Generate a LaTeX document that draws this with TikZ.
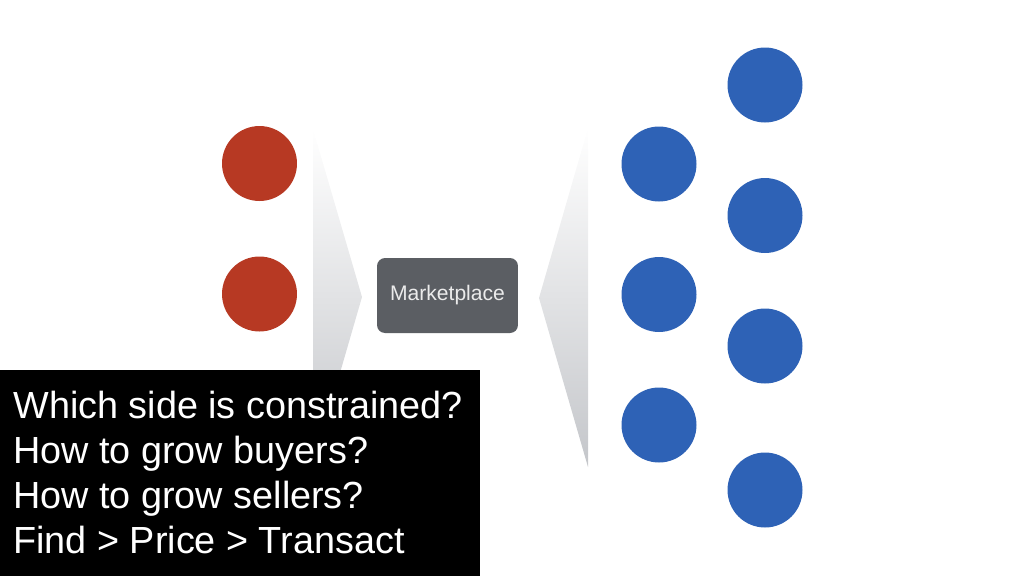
\documentclass[tikz,border=0pt]{standalone}
\usepackage{fontspec}
\setmainfont{Liberation Sans}
\usepackage{xcolor}
\usepackage{tikz}
\usetikzlibrary{shapes,positioning}
\definecolor{sellerred}{RGB}{183,57,35}
\definecolor{buyerblue}{RGB}{46,98,182}
\definecolor{marketgray}{RGB}{91,94,99}
\definecolor{funnelgray}{RGB}{217,218,220}
\definecolor{funneldark}{RGB}{196,198,202}

\begin{document}
\begin{tikzpicture}[
    x=0.02cm, y=-0.02cm,
    seller/.style={circle, fill=sellerred, minimum size=1.5cm, inner sep=0pt},
    buyer/.style={circle, fill=buyerblue, minimum size=1.5cm, inner sep=0pt},
    market/.style={rectangle, rounded corners=0.16cm, fill=marketgray, text=white!92!black,
        minimum width=2.82cm, minimum height=1.5cm, font=\fontsize{12}{14}\selectfont},
    question/.style={anchor=base west, inner sep=0pt, text=white, font=\fontsize{21.5}{24}\selectfont}
]
    \useasboundingbox (0,0) rectangle (1024,576);

    % Sellers
    \node[seller] (s1) at (259.5,163.5) {};
    \node[seller] (s2) at (259.5,294) {};

    % Buyers, first column
    \node[buyer] (b1) at (659,164) {};
    \node[buyer] (b2) at (659,294.5) {};
    \node[buyer] (b3) at (659,425) {};

    % Buyers, second column
    \node[buyer] (b4) at (765,85) {};
    \node[buyer] (b5) at (765,215.5) {};
    \node[buyer] (b6) at (765,346) {};
    \node[buyer] (b7) at (765,490) {};

    % Funnels
    \shade[top color=white, middle color=funnelgray, bottom color=funneldark]
        (313,129) -- (362,297) -- (313,466) -- cycle;
    \shade[top color=white, middle color=funnelgray, bottom color=funneldark]
        (588,128) -- (539,298) -- (588,467) -- cycle;

    % Marketplace
    \node[market] (mkt) at (447.5,295.5) {Marketplace};

    % Questions
    \node[fill=black, anchor=north west, minimum width=9.6cm, minimum height=4.12cm, inner sep=0pt]
        (qbox) at (0,370) {};
    \node[question] (q1) at (13,418) {Which side is constrained?};
    \node[question] (q2) at (13,463) {How to grow buyers?};
    \node[question] (q3) at (13,508) {How to grow sellers?};
    \node[question] (q4) at (13,553) {Find > Price > Transact};
\end{tikzpicture}
\end{document}
